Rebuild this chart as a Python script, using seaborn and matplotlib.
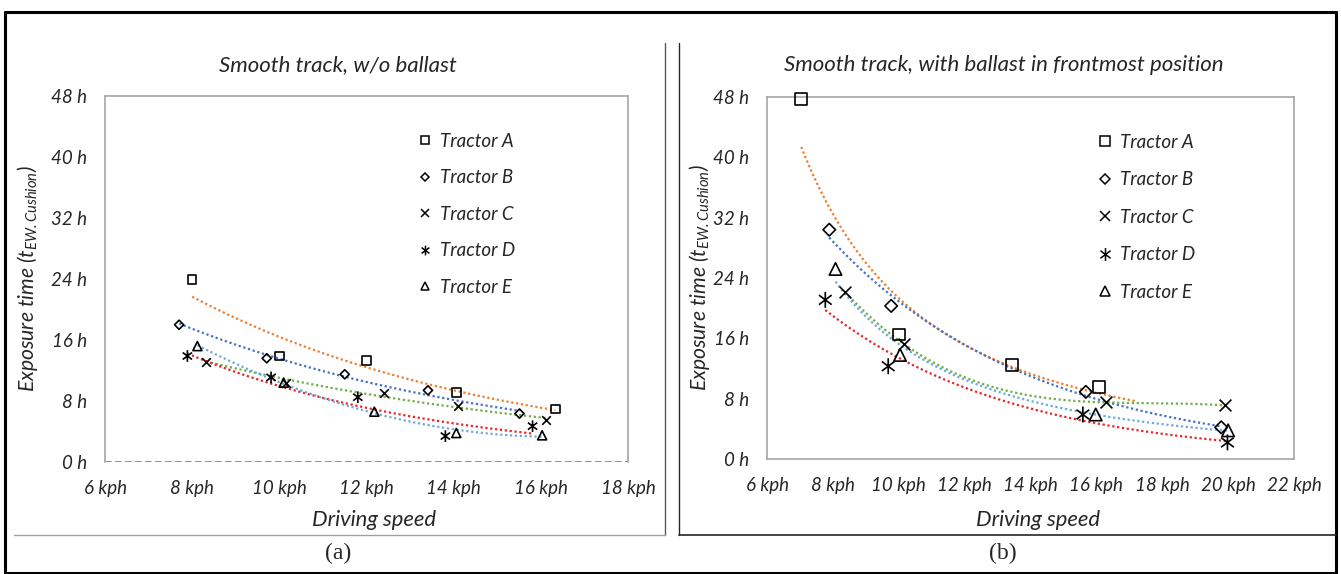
import matplotlib
matplotlib.use('Agg')
import matplotlib.pyplot as plt
from matplotlib.lines import Line2D
from matplotlib.path import Path
import numpy as np
import seaborn as sns

# ---- data ----
tractors = ['Tractor A', 'Tractor B', 'Tractor C', 'Tractor D', 'Tractor E']

# (a) smooth track, w/o ballast
a_speed = {
    'Tractor A': [8.0, 10.0, 12.0, 14.06, 16.33],
    'Tractor B': [7.7, 9.71, 11.5, 13.41, 15.51],
    'Tractor C': [8.32, 10.16, 12.4, 14.09, 16.11],
    'Tractor D': [7.89, 9.81, 11.8, 13.81, 15.81],
    'Tractor E': [8.12, 10.1, 12.18, 14.06, 16.03],
}
a_hours = {
    'Tractor A': [23.9, 13.9, 13.3, 9.1, 6.97],
    'Tractor B': [18.0, 13.6, 11.5, 9.4, 6.35],
    'Tractor C': [13.1, 10.4, 9.1, 7.4, 5.5],
    'Tractor D': [13.9, 11.1, 8.5, 3.4, 4.7],
    'Tractor E': [15.2, 10.4, 6.6, 3.8, 3.5],
}
a_fit = {'Tractor A': 'exp', 'Tractor B': 'exp', 'Tractor C': 'exp',
         'Tractor D': 'exp', 'Tractor E': 'poly2'}

# (b) smooth track, with ballast in frontmost position
b_speed = {
    'Tractor A': [7.04, 10.0, 13.45, 16.09],
    'Tractor B': [7.89, 9.77, 15.68, 19.79],
    'Tractor C': [8.38, 10.17, 16.28, 19.9],
    'Tractor D': [7.77, 9.68, 15.59, 19.98],
    'Tractor E': [8.08, 10.04, 15.98, 20.0],
}
b_hours = {
    'Tractor A': [47.7, 16.5, 12.5, 9.5],
    'Tractor B': [30.4, 20.3, 8.9, 4.2],
    'Tractor C': [22.1, 15.2, 7.5, 7.1],
    'Tractor D': [21.1, 12.3, 5.9, 2.2],
    'Tractor E': [25.2, 13.8, 5.9, 3.8],
}
b_fit = {'Tractor A': 'power', 'Tractor B': 'exp', 'Tractor C': 'poly3',
         'Tractor D': 'exp', 'Tractor E': 'power'}
b_forward = {'Tractor A': 1.1}

y_ticks = [0, 8, 16, 24, 32, 40, 48]
a_x_ticks = [6, 8, 10, 12, 14, 16, 18]
b_x_ticks = [6, 8, 10, 12, 14, 16, 18, 20, 22]

trend_colors = {'Tractor A': '#ED7D31', 'Tractor B': '#4472C4', 'Tractor C': '#70AD47',
                'Tractor D': '#E8262A', 'Tractor E': '#6FA8DC'}

star = Path([(0, -1), (0, 1), (-0.8, -0.6), (0.8, 0.6), (-0.8, 0.6), (0.8, -0.6)],
            [Path.MOVETO, Path.LINETO, Path.MOVETO, Path.LINETO, Path.MOVETO, Path.LINETO])
markers = {'Tractor A': 's', 'Tractor B': 'D', 'Tractor C': 'x',
           'Tractor D': star, 'Tractor E': '^'}
marker_scale = {'Tractor A': 1.0, 'Tractor B': 0.75, 'Tractor C': 1.0,
                'Tractor D': 1.35, 'Tractor E': 1.05}

sns.set_style('white')
plt.rcParams['font.family'] = ['Lato', 'DejaVu Sans']
plt.rcParams['font.style'] = 'italic'
plt.rcParams['mathtext.fontset'] = 'custom'
plt.rcParams['mathtext.it'] = 'Lato:italic'
plt.rcParams['mathtext.rm'] = 'Lato:italic'

W, H = 1341, 574
fig = plt.figure(figsize=(W / 100, H / 100), dpi=100)


def px_axes(x0, y0, x1, y1):
    return fig.add_axes([x0 / W, 1 - y1 / H, (x1 - x0) / W, (y1 - y0) / H])


def fig_line(x0, y0, x1, y1, color, lw):
    fig.add_artist(Line2D([x0 / W, x1 / W], [1 - y0 / H, 1 - y1 / H],
                          transform=fig.transFigure, color=color, lw=lw))


def trend(x, y, kind, forward=0.0):
    x = np.asarray(x)
    y = np.asarray(y)
    xs = np.linspace(x.min(), x.max() + forward, 200)
    if kind == 'exp':
        k, c = np.polyfit(x, np.log(y), 1)
        return xs, np.exp(c + k * xs)
    if kind == 'power':
        k, c = np.polyfit(np.log(x), np.log(y), 1)
        return xs, np.exp(c) * xs ** k
    p = np.polyfit(x, y, int(kind[-1]))
    return xs, np.polyval(p, xs)


def panel(ax, speed, hours, fits, forward, xticks, msize, title, title_xy,
          ylab_x, xlab_y, legend_xy, leg_ms, leg_space, dashed_zero):
    for t in tractors:
        xs, ys = trend(speed[t], hours[t], fits[t], forward.get(t, 0.0))
        sns.lineplot(x=xs, y=ys, ax=ax, color=trend_colors[t], lw=1.6,
                     ls=(0, (1, 1.2)), zorder=2)
    for t in tractors:
        m = markers[t]
        s = (msize * marker_scale[t]) ** 2
        if m == 'x':
            sns.scatterplot(x=speed[t], y=hours[t], ax=ax, marker=m, s=s,
                            color='black', linewidth=1.2, zorder=3, clip_on=False)
        else:
            sns.scatterplot(x=speed[t], y=hours[t], ax=ax, marker=m, s=s,
                            facecolor='none', edgecolor='black', linewidth=1.2,
                            zorder=3, clip_on=False)

    ax.set_xlim(xticks[0], xticks[-1])
    ax.set_ylim(0, 48)
    ax.set_xticks(xticks)
    ax.set_xticklabels([f'{v} kph' for v in xticks])
    ax.set_yticks(y_ticks)
    ax.set_yticklabels([f'{v} h' for v in y_ticks])
    ax.tick_params(length=0, labelsize=13.5, pad=13)
    for sp in ax.spines.values():
        sp.set_color('#a6a6a6')
        sp.set_linewidth(1.2)
    if dashed_zero:
        ax.spines['bottom'].set_visible(False)
        ax.axhline(0, color='#7f7f7f', lw=1.2, ls=(0, (4, 2)), zorder=1)

    ax.set_xlabel('Driving speed', fontsize=15.8)
    ax.set_ylabel(r'Exposure time ($t_{EW.Cushion}$)', fontsize=15.2)
    ax.xaxis.set_label_coords(0.515, xlab_y)
    ax.yaxis.set_label_coords(ylab_x, 0.5)
    ax.text(title_xy[0], title_xy[1], title, transform=ax.transAxes,
            ha='center', va='center', fontsize=16)

    handles = []
    for t in tractors:
        m = markers[t]
        handles.append(Line2D([], [], ls='none', marker=m, color='black',
                              mfc='none', mec='black', mew=1.1,
                              ms=leg_ms * marker_scale[t]))
    ax.legend(handles, tractors, loc='upper left', bbox_to_anchor=legend_xy,
              frameon=False, fontsize=13.5, handlelength=0.8, handletextpad=0.4,
              labelspacing=leg_space, borderpad=0, borderaxespad=0)


ax1 = px_axes(105, 96, 628, 462)
panel(ax1, a_speed, a_hours, a_fit, {}, a_x_ticks, 6.2,
      'Smooth track, w/o ballast', (0.445, 1.085), -0.124, -0.131,
      (0.598, 0.899), 5.2, 1.04, True)

ax2 = px_axes(767, 97, 1294, 459)
panel(ax2, b_speed, b_hours, b_fit, b_forward, b_x_ticks, 8.5,
      'Smooth track, with ballast in frontmost position', (0.45, 1.088), -0.104, -0.141,
      (0.627, 0.899), 6.8, 1.1, False)

# table frame around the two panels
fig_line(5, 12, 1336, 12, 'black', 2.2)
fig_line(5, 12, 5, 573, 'black', 2.2)
fig_line(1336, 12, 1336, 573, 'black', 2.2)
fig_line(5, 573, 1336, 573, 'black', 2.2)
fig_line(665, 43, 665, 535, '#595959', 1.0)
fig_line(14, 535, 665, 535, '#a0a0a0', 1.0)
fig_line(679, 43, 679, 535, '#262626', 1.0)
fig_line(679, 535, 1336, 535, '#262626', 1.2)

for label, x in [('(a)', 338), ('(b)', 1003)]:
    fig.text(x / W, 1 - 553 / H, label, ha='center', va='center', fontsize=17,
             family='Liberation Serif', style='normal')

fig.savefig('out.png', dpi=100)
